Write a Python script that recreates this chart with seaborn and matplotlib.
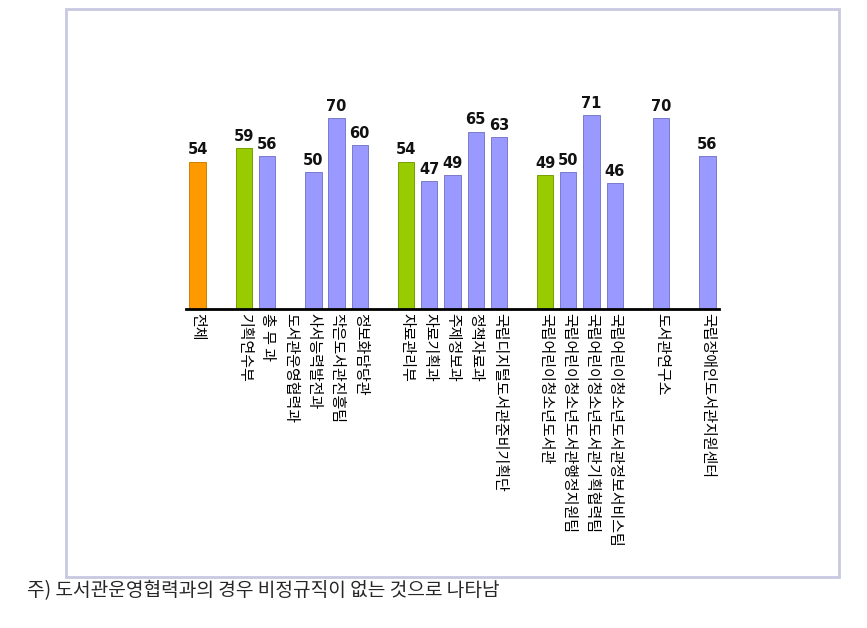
import matplotlib
matplotlib.use("Agg")
import matplotlib.pyplot as plt
from matplotlib.colors import to_hex
from matplotlib.patches import Rectangle
import numpy as np
import pandas as pd
import seaborn as sns

# 부서별 비정규직 비율(%) - 빈 칸은 그룹 사이 여백
departments = [
    "전체", " ",
    "기획연수부", "총 무 과", "도서관운영협력과", "사서능력발전과", "작은도서관진흥팀", "정보화담당관", "  ",
    "자료관리부", "자료기획과", "주제정보과", "정책자료과", "국립디지털도서관준비기획단", "   ",
    "국립어린이청소년도서관", "국립어린이청소년도서관행정지원팀", "국립어린이청소년도서관기획협력팀",
    "국립어린이청소년도서관정보서비스팀", "    ",
    "도서관연구소", "     ",
    "국립장애인도서관지원센터",
]
values = [
    54, np.nan,
    59, 56, np.nan, 50, 70, 60, np.nan,
    54, 47, 49, 65, 63, np.nan,
    49, 50, 71, 46, np.nan,
    70, np.nan,
    56,
]
groups = [
    "전체", "기타",
    "부", "과", "과", "과", "과", "과", "기타",
    "부", "과", "과", "과", "과", "기타",
    "부", "과", "과", "과", "기타",
    "과", "기타",
    "과",
]
palette = {"전체": "#FF9900", "부": "#99CC00", "과": "#9999FF", "기타": "#FFFFFF"}
footnote = "주) 도서관운영협력과의 경우 비정규직이 없는 것으로 나타남"

sns.set_style("white")
plt.rcParams["font.family"] = ["Noto Sans CJK KR", "DejaVu Sans"]

df = pd.DataFrame({"부서": departments, "비율": values, "구분": groups})

fig = plt.figure(figsize=(8.67, 6.28), dpi=100)
ax = fig.add_axes([0.2145, 0.508, 0.6148, 0.4347])

sns.barplot(data=df, x="부서", y="비율", hue="구분", order=departments,
            palette=palette, saturation=1, dodge=False, width=0.7,
            legend=False, ax=ax)

edge = {"#ff9900": "#d08000", "#99cc00": "#769e00", "#9999ff": "#7a7acc"}
for patch in ax.patches:
    fc = to_hex(patch.get_facecolor())
    patch.set_edgecolor(edge.get(fc, "none"))
    patch.set_linewidth(0.7)

for i, v in enumerate(values):
    if not np.isnan(v):
        ax.text(i, v + 1.5, f"{v:.0f}", ha="center", va="bottom",
                fontsize=10.5, fontweight="bold", family="DejaVu Sans", color="#111111")

ax.set_ylim(0, 100)
ax.set_xlim(-0.5, len(departments) - 0.5)
ax.set_xlabel("")
ax.set_ylabel("")
ax.set_yticks([])
ax.tick_params(axis="x", length=0, pad=3)
ax.set_xticks(range(len(departments)))
ax.set_xticklabels(departments, rotation=270, fontsize=10.8, va="top", ha="center",
                   color="black")
for side in ["top", "right", "left"]:
    ax.spines[side].set_visible(False)
ax.spines["bottom"].set_color("black")
ax.spines["bottom"].set_linewidth(2)

fig.patches.append(Rectangle((0.0761, 0.0812), 0.8916, 0.9045, transform=fig.transFigure,
                             fill=False, edgecolor="#C8C8E0", linewidth=2))

fig.text(0.031, 0.059, footnote, fontsize=13.8, ha="left", va="center")

fig.savefig("out.png", dpi=100)
